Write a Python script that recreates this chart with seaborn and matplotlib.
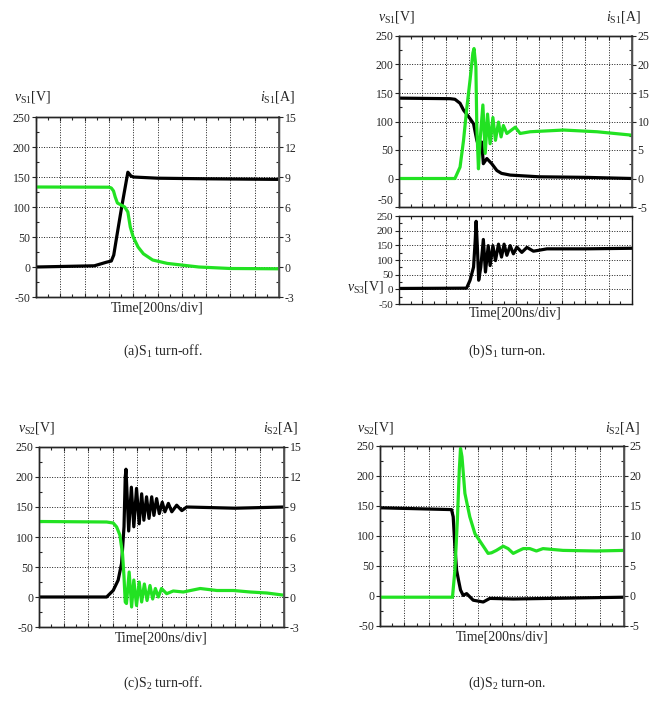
import numpy as np
import matplotlib
matplotlib.use("Agg")
import matplotlib.pyplot as plt
import seaborn as sns

sns.set_theme(style="ticks")
plt.rcParams['font.family'] = ['Liberation Serif', 'DejaVu Serif']
plt.rcParams['mathtext.fontset'] = 'custom'
plt.rcParams['mathtext.rm'] = 'Liberation Serif'
plt.rcParams['mathtext.it'] = 'Liberation Serif:italic'
plt.rcParams['axes.linewidth'] = 1.0
plt.rcParams['axes.unicode_minus'] = False

# ---------------- data (x in time divisions, 200 ns/div) ----------------
# (a) S1 turn-off
a_tv = [0, 2.4, 2.9, 3.1, 3.2, 3.32, 3.53, 3.78, 3.9, 4.0, 5, 7, 10]
a_v = [0, 2, 8, 10, 20, 50, 101, 158, 152, 150, 148, 147, 146]
a_ti = [0, 3.0, 3.1, 3.19, 3.26, 3.35, 3.5, 3.65, 3.78, 3.88, 4.0, 4.2, 4.42, 4.8, 5.4, 6.7, 8, 10]
a_i = [8.0, 7.98, 7.9, 7.6, 7.0, 6.4, 6.2, 6.0, 5.5, 4.0, 3.0, 2.0, 1.32, 0.7, 0.36, 0.0, -0.15, -0.18]

# (b) S1 turn-on (upper: vS1, iS1; lower: vS3)
b_tv = [0, 2.2, 2.4, 2.62, 2.77, 3.05, 3.2, 3.34, 3.41, 3.55, 3.62, 3.77, 3.98, 4.2, 4.4, 4.77, 6, 8, 10]
b_v = [141, 140, 139, 132, 120, 105, 96, 67, 58, 64, 26, 35, 26, 14, 9, 6, 3, 2, 0]
b_ti = [0, 2.4, 2.62, 2.77, 2.9, 3.05, 3.17, 3.22, 3.3, 3.34, 3.41, 3.48, 3.6, 3.7, 3.8,
        3.91, 4.03, 4.14, 4.27, 4.38, 4.48, 4.63, 4.99, 5.2, 5.63, 7.06, 8.5, 10]
b_i = [0, 0, 2, 6.7, 12, 17.3, 22, 22.8, 19.6, 9, 1.7, 6.7, 12.9, 4.4, 11.3,
       6.1, 10.7, 6.7, 9.9, 7.3, 9.3, 7.9, 9.0, 7.9, 8.2, 8.5, 8.2, 7.6]
b3_t = [0, 2.9, 3.05, 3.2, 3.27, 3.31, 3.37, 3.42, 3.51, 3.62, 3.71, 3.83, 3.91, 4.03,
        4.14, 4.27, 4.4, 4.51, 4.63, 4.77, 4.91, 5.06, 5.27, 5.49, 5.77, 6.35, 8, 10]
b3_v = [3, 4, 31, 76, 166, 232, 132, 31, 76, 170, 59, 149, 81, 149,
        98, 154, 110, 154, 116, 149, 121, 144, 126, 143, 130, 138, 138, 140]

# (c) S2 turn-off
c_tv = [0, 2.76, 3.03, 3.23, 3.37, 3.47, 3.52, 3.55, 3.66, 3.77, 3.87, 3.98, 4.09, 4.19,
        4.28, 4.39, 4.49, 4.6, 4.69, 4.8, 4.91, 5.03, 5.14, 5.28, 5.42, 5.62, 5.83, 6.03, 8, 10]
c_v = [0, 0, 11, 28, 56, 117, 200, 213, 110, 183, 117, 181, 122, 172,
       128, 167, 131, 167, 136, 164, 139, 158, 142, 156, 142, 153, 144, 150, 148, 150]
c_ti = [0, 2.76, 3.03, 3.17, 3.3, 3.41, 3.47, 3.52, 3.57, 3.68, 3.78, 3.87, 3.98, 4.09,
        4.19, 4.3, 4.41, 4.53, 4.64, 4.75, 4.87, 5.0, 5.21, 5.48, 5.89, 6.58, 7.26, 7.94, 8.62, 9.3, 10]
c_i = [7.55, 7.5, 7.4, 7.0, 6.2, 4.3, 2.0, -0.5, -0.65, 2.5, -1.0, 1.7, -0.85, 1.5,
       -0.5, 1.3, -0.35, 1.15, -0.2, 0.85, 0.0, 0.85, 0.33, 0.6, 0.5, 0.85, 0.65, 0.65, 0.5, 0.4, 0.18]

# (d) S2 turn-on
d_tv = [0, 2.93, 3.0, 3.07, 3.14, 3.22, 3.3, 3.41, 3.55, 3.82, 4.23, 4.5, 5.46, 10]
d_v = [147, 144, 132, 82, 43, 26, 10, 1, 4, -7, -10, -4, -5, -2]
d_ti = [0, 2.97, 3.07, 3.17, 3.25, 3.3, 3.36, 3.48, 3.68, 3.89, 4.16, 4.43, 4.57, 4.77,
        5.05, 5.25, 5.46, 5.66, 5.87, 6.14, 6.41, 6.68, 7.5, 8.87, 10]
d_i = [-0.2, -0.2, 4.3, 12.6, 21, 24.6, 23.2, 17.1, 13.2, 10.4, 8.75, 7.1, 7.2, 7.6,
       8.3, 7.9, 7.1, 7.5, 7.9, 7.9, 7.5, 7.9, 7.6, 7.5, 7.6]

v_ticks = [-50, 0, 50, 100, 150, 200, 250]
i_ticks_15 = [-3, 0, 3, 6, 9, 12, 15]
i_ticks_25 = [-5, 0, 5, 10, 15, 20, 25]

captions = ['(a)S$_1$ turn-off.', '(b)S$_1$ turn-on.', '(c)S$_2$ turn-off.', '(d)S$_2$ turn-on.']
xlabel = 'Time[200ns/div]'

GREEN = '#22e222'
BLACK = '#000000'

W, H = 656, 713
fig = plt.figure(figsize=(W / 100, H / 100), dpi=100)
TICKFS = 8.5


def px_axes(x0, x1, y0, y1):
    return fig.add_axes([x0 / W, 1 - y1 / H, (x1 - x0) / W, (y1 - y0) / H])


def style_left(ax):
    ax.set_xlim(0, 10)
    ax.set_ylim(-50, 250)
    ax.set_xticks(np.arange(0, 11, 1))
    ax.set_xticks(np.arange(0.5, 10, 1), minor=True)
    ax.set_yticks(v_ticks)
    ax.set_yticks(np.arange(-25, 250, 50), minor=True)
    ax.tick_params(axis='x', which='major', direction='in', top=True, bottom=True,
                   labelbottom=False, length=3, width=0.8)
    ax.tick_params(axis='x', which='minor', direction='in', top=True, bottom=True,
                   length=2.5, width=0.8)
    ax.tick_params(axis='y', which='major', direction='out', length=3, width=0.8,
                   labelsize=TICKFS, pad=1)
    ax.tick_params(axis='y', which='minor', direction='in', length=2.5, width=0.8)
    ax.grid(True, which='major', color='k', linestyle=(0, (1, 1.6)), linewidth=0.7)
    ax.set_xlabel('')
    ax.set_ylabel('')
    for s in ax.spines.values():
        s.set_color('k')
        s.set_linewidth(1.0)


def style_right(ax2, lim, ticks):
    ax2.set_ylim(*lim)
    ax2.set_yticks(ticks)
    step = ticks[1] - ticks[0]
    ax2.set_yticks(np.arange(ticks[0] + step / 2, ticks[-1], step), minor=True)
    ax2.tick_params(axis='y', which='major', direction='out', length=3, width=0.8,
                    labelsize=TICKFS, pad=1)
    ax2.tick_params(axis='y', which='minor', direction='in', length=2.5, width=0.8)
    ax2.set_ylabel('')
    ax2.spines['right'].set_color('#555555')
    ax2.spines['right'].set_linewidth(1.3)


def draw(ax, x, y, color, lw=2.3):
    sns.lineplot(x=x, y=y, ax=ax, color=color, linewidth=lw, estimator=None,
                 sort=False, legend=False)


LBL = 10

# ---- (a)
ax = px_axes(36, 279, 117, 297)
draw(ax, a_tv, a_v, BLACK)
style_left(ax)
ax2 = ax.twinx()
draw(ax2, a_ti, a_i, GREEN)
style_right(ax2, (-3, 15), i_ticks_15)
fig.text(14 / W, 1 - 97 / H, r'$v_{\mathrm{S1}}$[V]', fontsize=LBL, va='center', ha='left')
fig.text(295 / W, 1 - 97 / H, r'$i_{\mathrm{S1}}$[A]', fontsize=LBL, va='center', ha='right')
fig.text(157.5 / W, 1 - 308 / H, xlabel, fontsize=LBL, ha='center', va='center')

# ---- (b) upper
ax = px_axes(399, 632, 36, 207)
draw(ax, b_tv, b_v, BLACK)
style_left(ax)
ax2 = ax.twinx()
draw(ax2, b_ti, b_i, GREEN)
style_right(ax2, (-5, 25), i_ticks_25)
fig.canvas.draw()
ax.get_yticklabels()[0].set_va('bottom')
fig.text(378 / W, 1 - 17 / H, r'$v_{\mathrm{S1}}$[V]', fontsize=LBL, va='center', ha='left')
fig.text(641 / W, 1 - 17 / H, r'$i_{\mathrm{S1}}$[A]', fontsize=LBL, va='center', ha='right')

# ---- (b) lower
ax = px_axes(399, 632, 216, 304)
draw(ax, b3_t, b3_v, BLACK)
style_left(ax)
ax.tick_params(axis='y', which='major', labelsize=8)
fig.text(347 / W, 1 - 287 / H, r'$v_{\mathrm{S3}}$[V]', fontsize=LBL, va='center', ha='left')
fig.text(515.5 / W, 1 - 313 / H, xlabel, fontsize=LBL, ha='center', va='center')

# ---- (c)
ax = px_axes(39, 284, 447, 627)
draw(ax, c_tv, c_v, BLACK)
style_left(ax)
ax2 = ax.twinx()
draw(ax2, c_ti, c_i, GREEN)
style_right(ax2, (-3, 15), i_ticks_15)
fig.text(18 / W, 1 - 428 / H, r'$v_{\mathrm{S2}}$[V]', fontsize=LBL, va='center', ha='left')
fig.text(298 / W, 1 - 428 / H, r'$i_{\mathrm{S2}}$[A]', fontsize=LBL, va='center', ha='right')
fig.text(161.5 / W, 1 - 638 / H, xlabel, fontsize=LBL, ha='center', va='center')

# ---- (d)
ax = px_axes(380, 624, 446, 626)
draw(ax, d_tv, d_v, BLACK)
style_left(ax)
ax2 = ax.twinx()
draw(ax2, d_ti, d_i, GREEN)
style_right(ax2, (-5, 25), i_ticks_25)
fig.text(357 / W, 1 - 428 / H, r'$v_{\mathrm{S2}}$[V]', fontsize=LBL, va='center', ha='left')
fig.text(640 / W, 1 - 428 / H, r'$i_{\mathrm{S2}}$[A]', fontsize=LBL, va='center', ha='right')
fig.text(502 / W, 1 - 637 / H, xlabel, fontsize=LBL, ha='center', va='center')

# ---- captions
fig.text(163 / W, 1 - 351 / H, captions[0], fontsize=LBL, ha='center', va='center')
fig.text(507 / W, 1 - 351 / H, captions[1], fontsize=LBL, ha='center', va='center')
fig.text(163 / W, 1 - 683 / H, captions[2], fontsize=LBL, ha='center', va='center')
fig.text(507 / W, 1 - 683 / H, captions[3], fontsize=LBL, ha='center', va='center')

fig.savefig('out.png', dpi=100, facecolor='white')
